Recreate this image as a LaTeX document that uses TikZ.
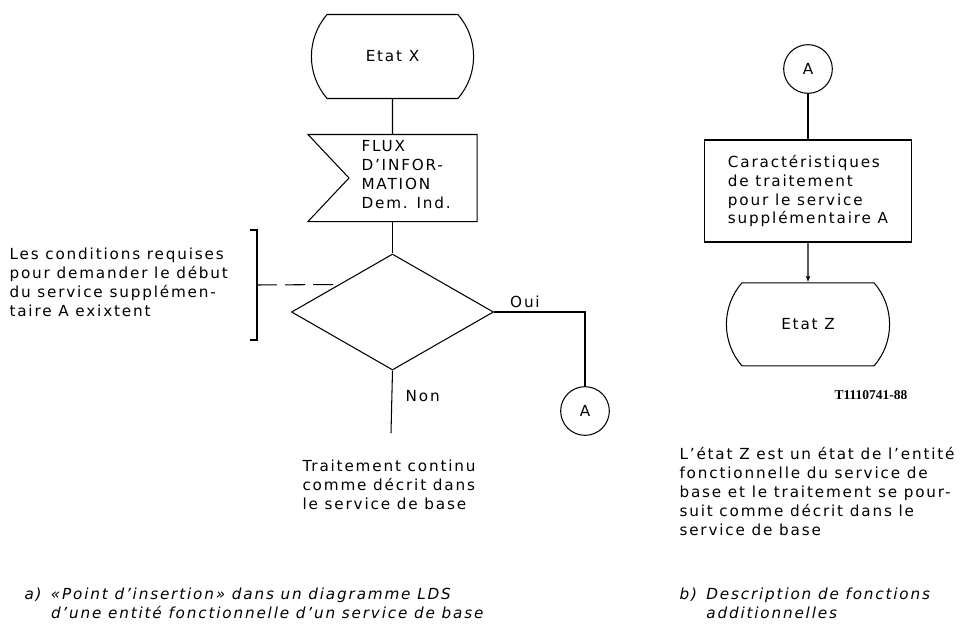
\documentclass[tikz,border=0pt]{standalone}
\usepackage{fontspec}
\setmainfont[LetterSpace=12]{DejaVu Sans}
\newfontfamily\reffont{Liberation Serif}
\usetikzlibrary{calc, arrows, shapes.geometric, shapes.misc}
\tikzstyle{etat}=[draw, rounded rectangle, rounded rectangle arc length=82, minimum width=5.1cm, minimum height=2.52cm]
\tikzstyle{flux}=[minimum width=5.04cm, minimum height=2.58cm, inner sep=0pt]
\tikzstyle{decision}=[draw, diamond, minimum width=6.06cm, minimum height=3.48cm, inner sep=0pt]
\tikzstyle{connect}=[draw, circle, minimum size=1.46cm, inner sep=0pt]
\tikzstyle{traitement}=[draw, rectangle, minimum width=6.21cm, minimum height=3.06cm, align=left]
\tikzstyle{texte}=[align=left, inner sep=0pt, anchor=north west]
\tikzstyle{legende}=[texte, font=\itshape\fontsize{13pt}{16pt}\selectfont]

\begin{document}
\begin{tikzpicture}[x=0.03cm, y=-0.03cm, auto, >=latex', line width=0.9pt,
  font=\fontsize{13pt}{16.2pt}\selectfont]
  \useasboundingbox (0,0) rectangle (973,627);
  \node [etat] (etatx) at (392.5,56.5) {Etat X};
  \node [flux] (flux) [below of=etatx, node distance=3.645cm] {};
  \draw (flux.north west) -- (flux.north east) -- (flux.south east) -- (flux.south west)
    -- ([xshift=1.23cm]flux.west) -- cycle;
  \node [texte, anchor=west] (fluxtxt) at (361,175) {FLUX\\D'INFOR-\\MATION\\Dem. Ind.};
  \node [decision] (dec) [below of=flux, node distance=4.02cm] {};
  \node [connect] (conA) at (585,411) {A};
  \coordinate (nonend) at (391,433);
  \node [texte] (suite) at (302,459) {Traitement continu\\comme décrit dans\\le service de base};
  \node [texte] (cond) at (9,247) {Les conditions requises\\pour demander le début\\du service supplémen-\\taire A exixtent};
  \draw [line width=1.6pt] (250,230) -- (257,230) -- (257,340) -- (250,340);
  \coordinate (crochet) at (257,285);
  \path (etatx) edge (flux);
  \path (flux) edge (dec);
  \draw (dec.east) -| node [pos=.17, above] {Oui} (conA);
  \draw (dec.south) -- node [pos=.41, right, xshift=8pt] {Non} (nonend);
  \draw [dash pattern=on 17pt off 7pt] (crochet) -- ($(dec.west)!.47!(dec.north)$);
  \node [connect] (conA2) at (808,69) {A};
  \node [traitement] (caract) [below of=conA2, node distance=3.66cm] {Caractéristiques\\de traitement\\pour le service\\supplémentaire A};
  \node [etat, minimum width=5.13cm, minimum height=2.49cm] (etatz) [below of=caract, node distance=4.0cm] {Etat Z};
  \path (conA2) edge (caract);
  \path[->] (caract) edge (etatz);
  \node [font=\reffont\bfseries\fontsize{11.5pt}{13pt}\selectfont] (ref) at (871,395) {T1110741-88};
  \node [texte] (note) at (679,447) {L'état Z est un état de l'entité\\fonctionnelle du service de\\base et le traitement se pour-\\suit comme décrit dans le\\service de base};
  \node [legende] (lega) at (24,586) {\begin{tabular}{@{}l@{\hspace{8pt}}l@{}}a) & «Point d'insertion» dans un diagramme LDS\\ & d'une entité fonctionnelle d'un service de base\end{tabular}};
  \node [legende] (legb) at (679,586) {\begin{tabular}{@{}l@{\hspace{8pt}}l@{}}b) & Description de fonctions\\ & additionnelles\end{tabular}};
\end{tikzpicture}
\end{document}
